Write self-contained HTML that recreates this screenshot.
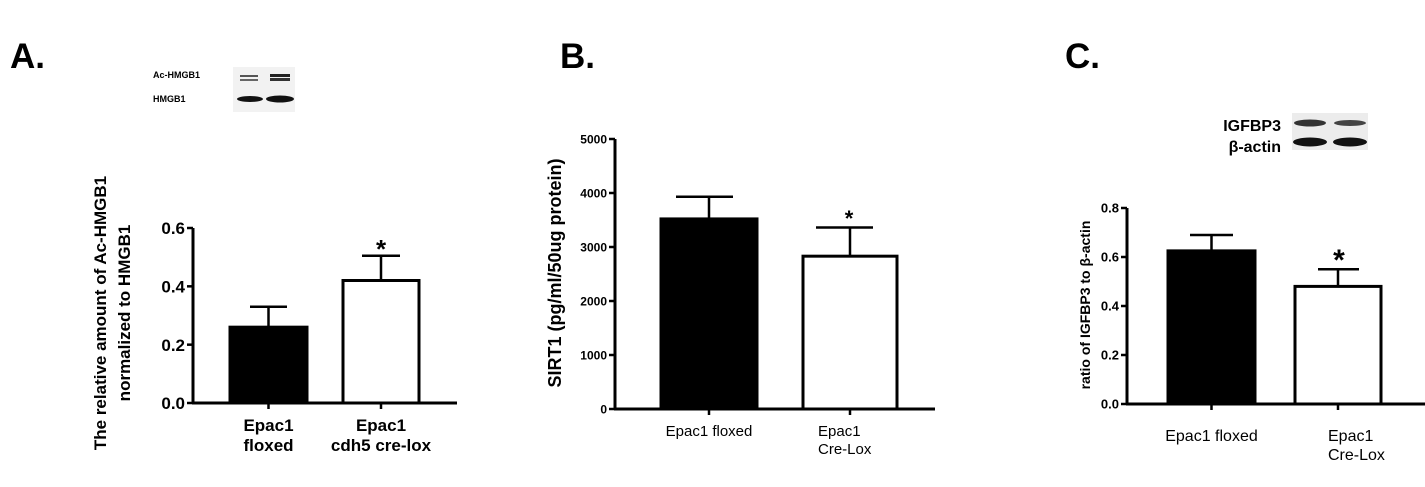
<!DOCTYPE html>
<html><head><meta charset="utf-8"><style>
body{margin:0;background:#fff;width:1425px;height:487px;overflow:hidden}
svg{display:block;font-family:"Liberation Sans",Arial,sans-serif;font-weight:bold}
</style></head><body>
<svg id="s" width="1425" height="487" viewBox="0 0 1425 487">
<text x="10" y="68" font-size="35">A.</text>
<text x="560" y="68" font-size="35">B.</text>
<text x="1065" y="68" font-size="35">C.</text>
<g>
<text x="153" y="78" font-size="9">Ac-HMGB1</text>
<text x="153" y="102" font-size="9">HMGB1</text>
<rect x="233" y="67" width="62" height="45" fill="#f2f2f2"/>
<rect x="240" y="75" width="18" height="2" fill="#555"/><rect x="240" y="79" width="18" height="2" fill="#666"/>
<rect x="270" y="74" width="20" height="3" fill="#222"/><rect x="270" y="78" width="20" height="3" fill="#333"/>
<ellipse cx="250" cy="99" rx="13" ry="3" fill="#111"/><ellipse cx="280" cy="99" rx="14" ry="3.5" fill="#111"/>
</g>
<g>
<text x="1281" y="131" font-size="16" text-anchor="end">IGFBP3</text>
<text x="1281" y="152" font-size="16" text-anchor="end">β-actin</text>
<rect x="1292" y="113" width="76" height="37" fill="#ececec"/>
<ellipse cx="1310" cy="123" rx="16" ry="3.5" fill="#333"/><ellipse cx="1350" cy="123" rx="16" ry="3" fill="#444"/>
<ellipse cx="1310" cy="142" rx="17" ry="4.5" fill="#111"/><ellipse cx="1350" cy="142" rx="17" ry="4.5" fill="#111"/>
</g>
<g id="g"></g>
</svg>
<script>
const catsA=["Epac1|floxed","Epac1|cdh5 cre-lox"], valsA=[0.26,0.42], errA=[0.33,0.505], ticksA=["0.0","0.2","0.4","0.6"];
const catsB=["Epac1 floxed","Epac1|Cre-Lox"], valsB=[3520,2830], errB=[3930,3360], ticksB=["0","1000","2000","3000","4000","5000"];
const catsC=["Epac1 floxed","Epac1|Cre-Lox"], valsC=[0.625,0.48], errC=[0.69,0.55], ticksC=["0.0","0.2","0.4","0.6","0.8"];
const NS="http://www.w3.org/2000/svg", G=document.getElementById('g');
function mk(t,a,txt){const e=document.createElementNS(NS,t);for(const k in a)e.setAttribute(k,a[k]);if(txt!=null)e.textContent=txt;G.appendChild(e);return e;}
function panel(p,cats,vals,errs,ticks){
  const max=parseFloat(ticks[ticks.length-1]);
  const y=v=>p.y0-(v/max)*(p.y0-p.yTop);
  let a=mk('line',{x1:p.ax,y1:p.yTop,x2:p.ax,y2:p.y0+1,stroke:'#000','stroke-width':3});
  
  a=mk('line',{x1:p.ax-1,y1:p.y0,x2:p.axEnd,y2:p.y0,stroke:'#000','stroke-width':3});
  
  ticks.forEach(t=>{const v=parseFloat(t),yy=y(v);
    mk('line',{x1:p.ax-6,y1:yy,x2:p.ax,y2:yy,stroke:'#000','stroke-width':2.5});
    const l=mk('text',{x:p.ax-8,y:yy+p.tf*0.36,'font-size':p.tf,'text-anchor':'end'},t);
    });
  vals.forEach((v,i)=>{const x0=p.bars[i][0],x1=p.bars[i][1],cx=(x0+x1)/2,ey=y(errs[i]),cap=p.caps[i];
    const e=mk('path',{d:`M${cx},${y(v)}V${ey}M${cap[0]},${ey}H${cap[1]}`,stroke:'#000','stroke-width':2.5,fill:'none'});
    
    const b=mk('rect',{x:x0,y:y(v),width:x1-x0,height:p.y0-y(v),fill:i==0?'#000':'#fff',stroke:'#000','stroke-width':3});
    
    mk('line',{x1:cx,y1:p.y0,x2:cx,y2:p.y0+6,stroke:'#000','stroke-width':2.5});
    const lines=cats[i].split('|');
    lines.forEach((s,j)=>{const L=mk('text',{x:lines.length>1&&p.leftAlign?p.lx[i]:cx,y:p.cy+j*p.lh,'font-size':p.cf,'text-anchor':lines.length>1&&p.leftAlign?'start':'middle','font-weight':p.cw},s);
      });
  });
  const st=mk('text',{x:p.star[0],y:p.star[1],'font-size':p.sf,'text-anchor':'middle'},'*');
  
  p.title.forEach((s,j)=>{const t=mk('text',{x:0,y:0,'font-size':p.yf,'text-anchor':'middle',transform:`translate(${p.tx[j]},${p.ty}) rotate(-90)`},s);
    });
}
panel({id:'a',ax:193,axEnd:457,y0:403,yTop:228,tf:17,bars:[[230,307],[343,419]],caps:[[250,287],[362,400]],cy:431,lh:20,cf:17,cw:'bold',
  star:[381,258],sf:26,title:["The relative amount of  Ac-HMGB1","normalized to HMGB1"],tx:[106,130],ty:313,yf:17},catsA,valsA,errA,ticksA);
panel({id:'b',ax:615,axEnd:935,y0:409,yTop:139,tf:12,bars:[[661,757],[803,897]],caps:[[676,733],[816,873]],cy:436,lh:18,cf:15,cw:'normal',leftAlign:true,lx:[0,818],
  star:[849,226],sf:22,title:["SIRT1 (pg/ml/50ug protein)"],tx:[561],ty:273,yf:18},catsB,valsB,errB,ticksB);
panel({id:'c',ax:1127,axEnd:1425,y0:404,yTop:208,tf:13,bars:[[1168,1255],[1295,1381]],caps:[[1190,1233],[1318,1359]],cy:441,lh:19,cf:16,cw:'normal',leftAlign:true,lx:[0,1328],
  star:[1339,270],sf:30,title:["ratio of IGFBP3 to β-actin"],tx:[1090],ty:305,yf:14},catsC,valsC,errC,ticksC);
</script>
</body></html>
